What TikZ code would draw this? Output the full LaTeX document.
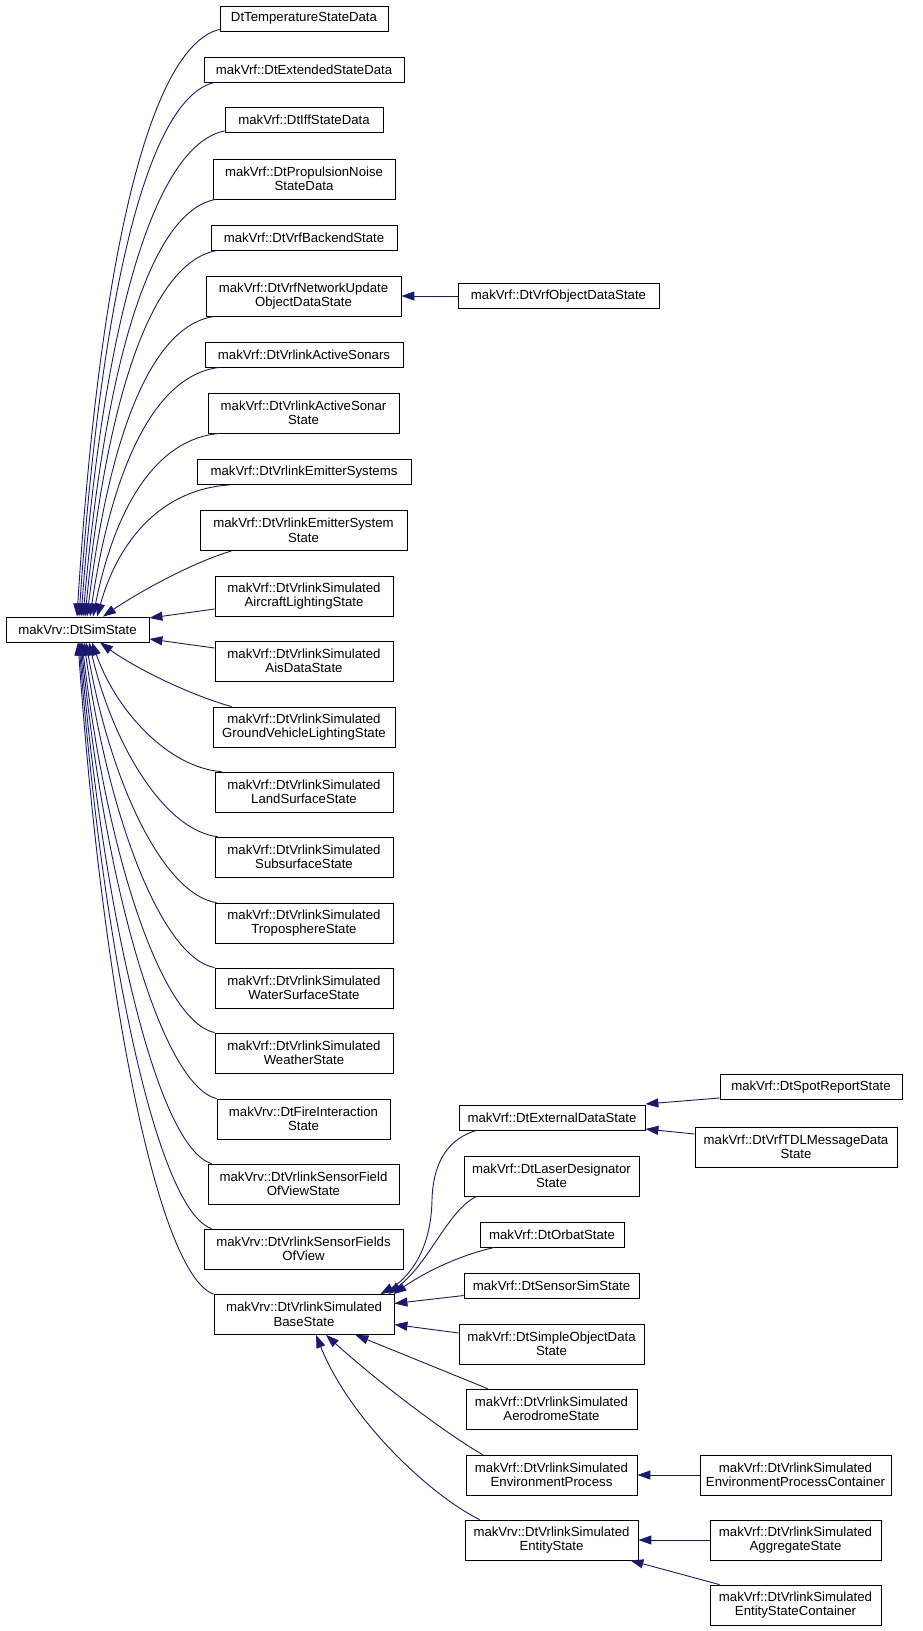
\documentclass[tikz,border=0pt]{standalone}
\usepackage{fontspec}
\setmainfont{Liberation Sans}
\usetikzlibrary{arrows.meta}
\definecolor{edgeblue}{HTML}{191970}
\begin{document}
\begin{tikzpicture}[x=1pt,y=-1pt,
  box/.style={draw=black, line width=0.8pt, fill=white, inner sep=0pt, align=center,
              font=\fontsize{13.2}{14.5}\selectfont},
  bone/.style={box, minimum height=25pt},
  btwo/.style={box, minimum height=40pt},
  edge/.style={draw=edgeblue, line width=0.9pt, -{Triangle[length=13pt,width=9pt]}},
]
\fill[white] (0,0) rectangle (923,1631);
\useasboundingbox (0,0) rectangle (923,1631);

% ---- left column root
\node[bone, minimum width=143pt] (sim) at (77.5,629.5) {makVrv::DtSimState};

% ---- middle column
\node[bone, minimum width=168pt] (temp) at (304,18.5) {DtTemperatureStateData};
\node[bone, minimum width=200pt] (ext) at (304,69.5) {makVrf::DtExtendedStateData};
\node[bone, minimum width=158pt] (iff) at (304,120) {makVrf::DtIffStateData};
\node[btwo, minimum width=182pt] (prop) at (304,179) {makVrf::DtPropulsionNoise\\StateData};
\node[bone, minimum width=186pt] (backend) at (304,237.5) {makVrf::DtVrfBackendState};
\node[btwo, minimum width=195pt] (netupd) at (303.5,296) {makVrf::DtVrfNetworkUpdate\\ObjectDataState};
\node[bone, minimum width=198pt] (sonars) at (304,354.5) {makVrf::DtVrlinkActiveSonars};
\node[btwo, minimum width=191pt] (sonarstate) at (303.5,413) {makVrf::DtVrlinkActiveSonar\\State};
\node[bone, minimum width=214pt] (emitters) at (304,472) {makVrf::DtVrlinkEmitterSystems};
\node[btwo, minimum width=207pt] (emitterstate) at (303.5,530.5) {makVrf::DtVrlinkEmitterSystem\\State};
\node[btwo, minimum width=178pt] (aircraft) at (304,596) {makVrf::DtVrlinkSimulated\\AircraftLightingState};
\node[btwo, minimum width=178pt] (ais) at (304,661) {makVrf::DtVrlinkSimulated\\AisDataState};
\node[btwo, minimum width=182pt] (ground) at (304,727) {makVrf::DtVrlinkSimulated\\GroundVehicleLightingState};
\node[btwo, minimum width=178pt] (land) at (304,792) {makVrf::DtVrlinkSimulated\\LandSurfaceState};
\node[btwo, minimum width=178pt] (subsurface) at (304,857) {makVrf::DtVrlinkSimulated\\SubsurfaceState};
\node[btwo, minimum width=178pt] (tropo) at (304,923) {makVrf::DtVrlinkSimulated\\TroposphereState};
\node[btwo, minimum width=178pt] (water) at (304,988) {makVrf::DtVrlinkSimulated\\WaterSurfaceState};
\node[btwo, minimum width=178pt] (weather) at (304,1053) {makVrf::DtVrlinkSimulated\\WeatherState};
\node[btwo, minimum width=173pt] (fire) at (303.5,1119) {makVrv::DtFireInteraction\\State};
\node[btwo, minimum width=191pt] (sensorfield) at (303.5,1184) {makVrv::DtVrlinkSensorField\\OfViewState};
\node[btwo, minimum width=199pt] (sensorfields) at (303.5,1249) {makVrv::DtVrlinkSensorFields\\OfView};
\node[btwo, minimum width=180pt] (base) at (304,1314.5) {makVrv::DtVrlinkSimulated\\BaseState};

% ---- third column
\node[bone, minimum width=201pt] (objdata) at (558.5,296) {makVrf::DtVrfObjectDataState};
\node[bone, minimum width=186pt] (extdata) at (552,1117.5) {makVrf::DtExternalDataState};
\node[btwo, minimum width=175pt] (laser) at (551.5,1176) {makVrf::DtLaserDesignator\\State};
\node[bone, minimum width=144pt] (orbat) at (552,1234.5) {makVrf::DtOrbatState};
\node[bone, minimum width=175pt] (sensorsim) at (551.5,1285.5) {makVrf::DtSensorSimState};
\node[btwo, minimum width=185pt] (simpleobj) at (551.5,1344) {makVrf::DtSimpleObjectData\\State};
\node[btwo, minimum width=171pt] (aerodrome) at (551.5,1409) {makVrf::DtVrlinkSimulated\\AerodromeState};
\node[btwo, minimum width=171pt] (envproc) at (551.5,1475) {makVrf::DtVrlinkSimulated\\EnvironmentProcess};
\node[btwo, minimum width=173pt] (entity) at (551.5,1540) {makVrv::DtVrlinkSimulated\\EntityState};

% ---- fourth column
\node[bone, minimum width=182pt] (spot) at (811,1087) {makVrf::DtSpotReportState};
\node[btwo, minimum width=202pt] (tdl) at (796,1147) {makVrf::DtVrfTDLMessageData\\State};
\node[btwo, minimum width=191pt] (envcont) at (795.5,1475) {makVrf::DtVrlinkSimulated\\EnvironmentProcessContainer};
\node[btwo, minimum width=171pt] (aggregate) at (795.5,1540) {makVrf::DtVrlinkSimulated\\AggregateState};
\node[btwo, minimum width=171pt] (entcont) at (795.5,1605) {makVrf::DtVrlinkSimulated\\EntityStateContainer};

% ---- edges into DtSimState (top)
\draw[edge] ([yshift=2pt]temp.south west) .. controls (148.5,46.6) and (99,264) .. ([xshift=-0.5pt]sim.north);
\draw[edge] ([xshift=11pt]ext.south west) .. controls (147,98) and (101,296) .. ([xshift=1.5pt]sim.north);
\draw[edge] ([yshift=2pt]iff.south west) .. controls (153,145.6) and (103,325) .. ([xshift=3.5pt]sim.north);
\draw[edge] ([xshift=3pt]prop.south west) .. controls (149.5,211.5) and (105,366) .. ([xshift=5.5pt]sim.north);
\draw[edge] ([xshift=7pt]backend.south west) .. controls (151.5,261) and (107,397) .. ([xshift=7.5pt]sim.north);
\draw[edge] ([xshift=9pt]netupd.south west) .. controls (151,325) and (109,436.4) .. ([xshift=9.5pt]sim.north);
\draw[edge] ([xshift=15pt]sonars.south west) .. controls (155,374.5) and (112,467) .. ([xshift=12.5pt]sim.north);
\draw[edge] ([xshift=12pt]sonarstate.south west) .. controls (156.5,438.5) and (115,506.6) .. ([xshift=15.5pt]sim.north);
\draw[edge] ([xshift=33pt]emitters.south west) .. controls (163.5,489) and (119,538) .. ([xshift=19.5pt]sim.north);
\draw[edge] ([xshift=32pt]emitterstate.south west) .. controls (185,565) and (130,598) .. ([xshift=25.5pt]sim.north);
\draw[edge] ([yshift=-13pt]aircraft.west) -- ([yshift=11.5pt]sim.east);
\draw[edge] ([yshift=13pt]ais.west) -- ([yshift=-9.5pt]sim.east);

% ---- edges into DtSimState (bottom)
\draw[edge] ([xshift=19pt]ground.north west) .. controls (190,695) and (135,668) .. ([xshift=22.5pt]sim.south);
\draw[edge] ([xshift=7pt]land.north west) .. controls (170,768) and (117,713) .. ([xshift=14.5pt]sim.south);
\draw[edge] ([xshift=3pt]subsurface.north west) .. controls (166.4,831) and (114,749) .. ([xshift=11.5pt]sim.south);
\draw[edge] ([xshift=2pt]tropo.north west) .. controls (164.6,895) and (111,785.6) .. ([xshift=8.5pt]sim.south);
\draw[edge] (water.north west) .. controls (162.6,958) and (109,821) .. ([xshift=6.5pt]sim.south);
\draw[edge] (weather.north west) .. controls (161.8,1021) and (107,857) .. ([xshift=4.5pt]sim.south);
\draw[edge] (fire.north west) .. controls (162.6,1085) and (106,893) .. ([xshift=3.5pt]sim.south);
\draw[edge] ([xshift=4pt]sensorfield.north west) .. controls (159,1148) and (105,929) .. ([xshift=2.5pt]sim.south);
\draw[edge] ([xshift=8pt]sensorfields.north west) .. controls (158.8,1211) and (104,965) .. ([xshift=1.5pt]sim.south);
\draw[edge] (base.north west) .. controls (159,1275) and (103,1001) .. ([xshift=0.5pt]sim.south);

% ---- edges into BaseState
\draw[edge] ([xshift=18pt]extdata.south west) .. controls (450,1138) and (433,1160) .. (432,1200)
            .. controls (431,1255) and (405,1280) .. ([xshift=-14pt]base.north east);
\draw[edge] ([xshift=13pt]laser.south west) .. controls (448,1210) and (430,1262) .. ([xshift=-6pt]base.north east);
\draw[edge] ([xshift=15pt]orbat.south west) .. controls (460,1255) and (425,1272) .. ([xshift=-1pt]base.north east);
\draw[edge] ([yshift=-10pt]sensorsim.west) -- ([yshift=11pt]base.east);
\draw[edge] ([yshift=11pt]simpleobj.west) -- ([yshift=-10pt]base.east);
\draw[edge] ([xshift=22pt]aerodrome.north west) -- ([xshift=-39pt]base.south east);
\draw[edge] ([xshift=17pt]envproc.north west) .. controls (440,1430) and (370,1375) .. ([xshift=22pt]base.south);
\draw[edge] ([xshift=15pt]entity.north west) .. controls (430,1495) and (350,1420) .. ([xshift=12pt]base.south);

% ---- right-hand edges
\draw[edge] (objdata.west) -- (netupd.east);
\draw[edge] ([yshift=-11pt]spot.west) -- ([yshift=13.5pt]extdata.east);
\draw[edge] ([yshift=13pt]tdl.west) -- ([yshift=-11.5pt]extdata.east);
\draw[edge] (envcont.west) -- (envproc.east);
\draw[edge] (aggregate.west) -- (entity.east);
\draw[edge] ([xshift=10pt]entcont.north west) -- ([xshift=-8pt]entity.south east);
\end{tikzpicture}
\end{document}
